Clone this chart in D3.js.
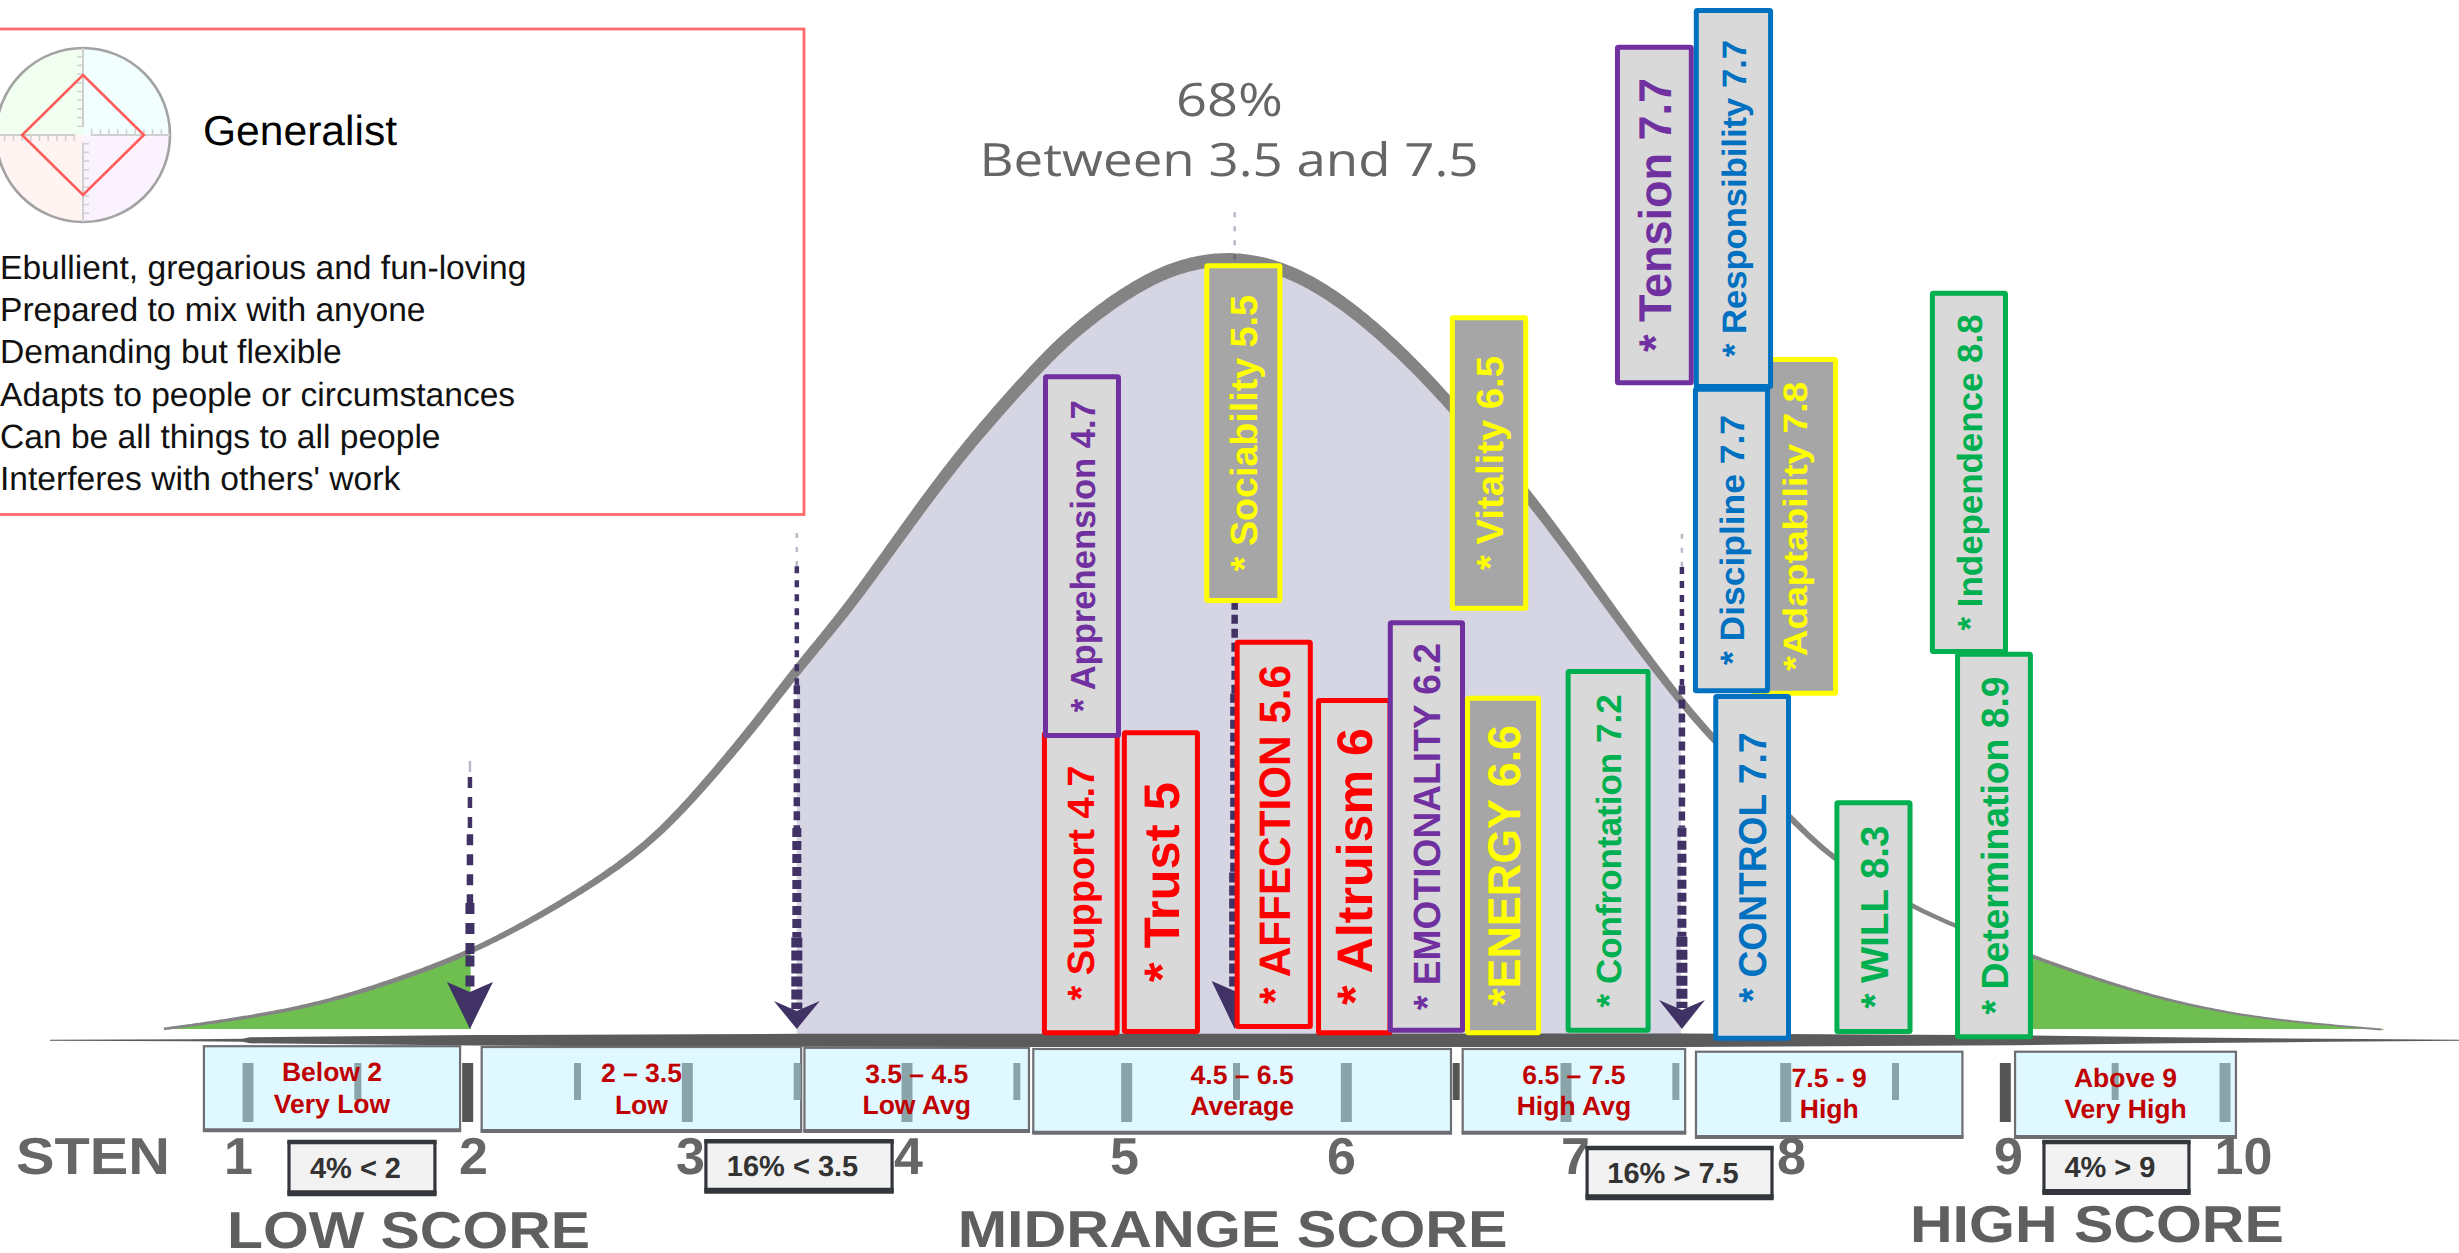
<!DOCTYPE html>
<html>
<head>
<meta charset="utf-8">
<script src="https://cdn.jsdelivr.net/npm/d3@7"></script>
<style>
html,body{margin:0;padding:0;background:#fff;overflow:hidden}
svg{display:block;font-family:"Liberation Sans",Arial,sans-serif;text-rendering:geometricPrecision}
</style>
</head>
<body>
<div id="chart"></div>
<script>
// ---------- data (sten score = x, relative frequency % = y) ----------
const stenTicks = [1,2,3,4,5,6,7,8,9,10];
const stenMarks = [1,1.5,2,2.5,3,3.5,4,4.5,5,5.5,6,6.5,7,7.5,8,8.5,9,9.5,10];

const curveSten = [.685,1.28,1.715,1.987,2.30,2.63,2.866,3.10,3.307,3.49,3.688,3.84,3.995,4.147,4.30,4.458,4.611,4.778,5.134,5.488,5.84,6.18,6.457,6.833,7.208,7.468,7.63,8.005,8.198,8.553,8.756,9.11,9.39,9.69,10.03,10.36,10.6];
const curvePct  = [.9,3.3,7.5,10.6,15.1,20.7,25.8,33,39.9,46.6,53.1,58.8,64.8,70.5,75.8,80.8,85.4,90,97.2,99.6,96.9,89.4,80.9,67.8,52.7,43.3,38,27.5,22.3,16.5,14,10,7.1,4.4,2.4,1.4,.8];

const barNames  = ["Adaptability","Support","Trust","Apprehension","Sociability","AFFECTION","Altruism","EMOTIONALITY","ENERGY","Vitality","Confrontation","Tension","Responsibility","Discipline","CONTROL","WILL","Independence","Determination"];
const barValues = [7.8,4.7,5,4.7,5.5,5.6,6,6.2,6.6,6.5,7.2,7.7,7.7,7.7,7.7,8.3,8.8,8.9];
const barFamily = ["energy","affection","affection","emotionality","energy","affection","affection","emotionality","energy","energy","will","emotionality","control","control","control","will","will","will"];
const barTight  = ["Adaptability","ENERGY"];

const barLeft   = [7.815,4.62,4.99,4.625,5.37,5.51,5.885,6.20,6.53,6.465,6.96,7.185,7.55,7.546,7.64,8.20,8.64,8.756];
const barRight  = [8.217,4.98,5.35,4.986,5.73,5.87,6.22,6.53,6.855,6.80,7.35,7.55,7.917,7.903,8.0,8.56,9.0,9.106];
const barTop    = [86.4,38.8,38.9,84.2,98.3,50.4,43,52.9,43.3,91.7,46.7,126.1,130.8,82.6,43.5,30,94.8,48.9];
const barBottom = [43.3,.1,.25,37.9,55.1,.9,.1,.4,.1,54.1,.4,82.8,82.3,43.6,-.6,.25,48.6,-.4];

const barFontPx = [34,38,50,35,38,44,50,38,46,38,35,46,34,34,39,39,35,38];
const barTextPx = [289,235,200,312,276,339,277,367,281,214,313,274,317,250,270,183,316,338];

const bandLines1 = ["Below 2","2 – 3.5","3.5 – 4.5","4.5 – 6.5","6.5 – 7.5","7.5 - 9","Above 9"];
const bandLines2 = ["Very Low","Low","Low Avg","Average","High Avg","High","Very High"];
const bandLeft   = [.855,2.04,3.525,4.58,6.52,7.56,9.03];
const bandRight  = [1.945,3.51,4.56,6.47,7.51,8.79,9.97];
const bandTop    = [-1.3,-1.4,-1.5,-1.65,-1.65,-2,-2];
const bandBottom = [-12,-12.1,-12.1,-12.3,-12.3,-12.85,-12.85];

const tailLabels = ["4% < 2","16% < 3.5","16% > 7.5","4% > 9"];
const tailLeft   = [1.217,3.073,7.056,9.153];
const tailRight  = [1.838,3.927,7.912,9.77];
const tailTop    = [-13.5,-13.4,-14.25,-13.5];
const tailBottom = [-20,-19.7,-20.5,-19.85];

const arrowSten = [1.987,3.49,5.51,7.495];
const arrowFrom = [35,64,104.8,63.9];

const scoreLabels = ["LOW SCORE","MIDRANGE SCORE","HIGH SCORE"];
const scoreSten   = [.953,4.23,8.548];
const scoreLine   = [-27,-26.85,-26.2];
const scoreWidth  = [363,550,374];

const baseSten  = [.2,.8,1.02,1.05,2,3.5,7.5,9.03,9.69,10.36,10.92];
const baseThick = [1,2,3,6,10.5,13,13.5,10,6,3,1];

const titleLines = ["68%","Between 3.5 and 7.5"];
const profileName = "Generalist";
const profileTraits = ["Ebullient, gregarious and fun-loving","Prepared to mix with anyone","Demanding but flexible","Adapts to people or circumstances","Can be all things to all people","Interferes with others' work"];
const radarAngles = [0,90,180,270];
const radarValues = [6.9,7,6.9,7];

// ---------- scales ----------
const W = 2459, H = 1253;
const x = d3.scaleLinear().domain(stenTicks).range([238,473,690,908,1124,1341,1575,1791,2008,2243]);
const markX = d3.scaleLinear().domain([1,10]).range([248,2225]);
const y = d3.scaleLinear().domain([0,100]).range([1036,250]);
const familyColor = d3.scaleOrdinal().domain(["affection","emotionality","energy","control","will"])
  .range(["#ff0000","#7030a0","#ffff00","#0070c0","#00b050"]);
const GREY = "#666666", INK = "#403264";

const svg = d3.select("#chart").append("svg").attr("width",W).attr("height",H).attr("viewBox",`0 0 ${W} ${H}`);
svg.append("rect").attr("width",W).attr("height",H).attr("fill","#fff");
const defs = svg.append("defs");

// ---------- profile panel ----------
const panel = svg.append("g");
panel.append("rect").attr("x",-6).attr("y",29).attr("width",810).attr("height",485.5)
  .attr("fill","#fff").attr("stroke","#ff6b6b").attr("stroke-width",2.8);
const radar = panel.append("g").attr("transform","translate(83,135)");
const radarR = d3.scaleLinear().domain([0,10]).range([0,87]);
const tints = ["#f1fff1","#f1ffff","#faf2ff","#fff4f2"];   // NW, NE, SE, SW
const arc = d3.arc().innerRadius(0).outerRadius(radarR(10));
tints.forEach((c,i)=>radar.append("path")
  .attr("d",arc({startAngle:(i-1)*Math.PI/2,endAngle:i*Math.PI/2})).attr("fill",c));
radar.append("circle").attr("r",radarR(10)).attr("fill","none").attr("stroke","#a3a3a3").attr("stroke-width",2.6);
radarAngles.forEach(a=>{
  const g = radar.append("g").attr("transform",`rotate(${a})`);
  g.append("line").attr("y1",-radarR(.9)).attr("y2",-radarR(10)).attr("stroke","#cfcfcf").attr("stroke-width",2);
  d3.range(1,10).forEach(t=>g.append("line")
    .attr("x1",0).attr("x2",-6).attr("y1",-radarR(t)).attr("y2",-radarR(t))
    .attr("stroke","#d2d2d2").attr("stroke-width",1.6));
});
const radarPts = radarAngles.map((a,i)=>{
  const t=a*Math.PI/180; return [Math.sin(t)*radarR(radarValues[i]),-Math.cos(t)*radarR(radarValues[i])];
});
radar.append("path").attr("d",d3.line().curve(d3.curveLinearClosed)(radarPts))
  .attr("fill","none").attr("stroke","#ff5c5c").attr("stroke-width",2.6);
panel.append("text").attr("x",203).attr("y",145).attr("font-size",42).attr("fill","#000")
  .attr("textLength",194).attr("lengthAdjust","spacingAndGlyphs").text(profileName);
panel.selectAll("text.trait").data(profileTraits).join("text").attr("class","trait")
  .attr("x",0).attr("y",(d,i)=>279+i*42.2).attr("font-size",33.6).attr("fill","#111").text(d=>d);

// ---------- title ----------
svg.selectAll("text.title").data(titleLines).join("text").attr("class","title")
  .attr("x",(d,i)=>i?1229:1229.5).attr("y",(d,i)=>i?176:116).attr("text-anchor","middle")
  .attr("font-family","'Open Sans',sans-serif").attr("font-size",46).attr("fill",GREY)
  .attr("textLength",(d,i)=>i?499:107).attr("lengthAdjust","spacingAndGlyphs").text(d=>d);

// ---------- bell curve ----------
const curvePts = curveSten.map((s,i)=>[x(s),y(curvePct[i])]);
const smooth = d3.curveBasis;
const areaPath = b=>d3.area().curve(smooth).x(d=>d[0]).y1(d=>d[1]).y0(y(b))(curvePts);
function clipped(id,a,b){
  defs.append("clipPath").attr("id",id).append("rect")
    .attr("x",x(a)).attr("width",x(b)-x(a)).attr("y",0).attr("height",H);
  return `url(#${id})`;
}
svg.append("path").attr("d",areaPath(.9)).attr("fill","#6fbf50").attr("clip-path",clipped("gl",.5,1.99));
svg.append("path").attr("d",areaPath(0)).attr("fill","#d5d5e3").attr("clip-path",clipped("mid",3.49,7.49));
svg.append("path").attr("d",areaPath(.9)).attr("fill","#6fbf50").attr("clip-path",clipped("gr",9,10.7));

// tapered outline: sample the smooth path and offset along its normal
const probe = svg.append("path").attr("d",d3.line().curve(smooth)(curvePts)).attr("fill","none");
const pNode = probe.node(), total = pNode.getTotalLength();
const upper=[], lower=[];
const peakX = x(5.5);
const halfWidth = p => {
  const v = Math.max(0,y.invert(p.y))/100;
  return (p.x<peakX ? 1.5+12*Math.pow(v,.5) : 1.5+12*Math.pow(v,.75))/2;
};
for(let l=0;l<=total;l+=3){
  const a=pNode.getPointAtLength(Math.max(0,l-1)), b=pNode.getPointAtLength(Math.min(total,l+1)), p=pNode.getPointAtLength(l);
  const dx=b.x-a.x, dy=b.y-a.y, n=Math.hypot(dx,dy)||1, h=halfWidth(p);
  upper.push([p.x+dy/n*h,p.y-dx/n*h]); lower.push([p.x-dy/n*h,p.y+dx/n*h]);
}
probe.remove();
svg.append("path").attr("d",d3.line()(upper.concat(lower.reverse()))+"Z").attr("fill","#848484");

// ---------- base line ----------
const basePts = baseSten.map((s,i)=>({s,t:baseThick[i]}));
svg.append("path").attr("d",d3.area().x(d=>x(d.s)).y0(d=>y(-.55)-d.t/2).y1(d=>y(-.55)+d.t/2)(basePts)).attr("fill","#5a5b5a");

// ---------- sten marks + bands ----------
const bands = svg.append("g");
bands.selectAll("rect").data(bandLines1).join("rect")
  .attr("x",(d,i)=>x(bandLeft[i])).attr("y",(d,i)=>y(bandTop[i]))
  .attr("width",(d,i)=>x(bandRight[i])-x(bandLeft[i]))
  .attr("height",(d,i)=>y(bandBottom[i])-y(bandTop[i]))
  .attr("fill","#e0f8ff").attr("stroke","#6d6e72").attr("stroke-width",2.2);
bands.selectAll("line").data(bandLines1).join("line")
  .attr("x1",(d,i)=>x(bandLeft[i])-1).attr("x2",(d,i)=>x(bandRight[i])+1)
  .attr("y1",(d,i)=>y(bandBottom[i])).attr("y2",(d,i)=>y(bandBottom[i]))
  .attr("stroke","#6d6e72").attr("stroke-width",4);
const inBand = px => bandLeft.some((l,i)=>px>=x(l)&&px<=x(bandRight[i]));
svg.selectAll("rect.mark").data(stenMarks).join("rect").attr("class","mark")
  .attr("x",d=>markX(d)-(Number.isInteger(d)?5.5:3.5)).attr("width",d=>Number.isInteger(d)?11:7)
  .attr("y",1063).attr("height",d=>Number.isInteger(d)?59:37)
  .attr("fill",d=>inBand(markX(d))?"#8aa5a9":"#555555");
[bandLines1,bandLines2].forEach((lines,k)=>{
  svg.selectAll(`text.band${k}`).data(lines).join("text").attr("class",`band${k}`)
    .attr("x",(d,i)=>(x(bandLeft[i])+x(bandRight[i]))/2)
    .attr("y",(d,i)=>y(bandTop[i])+(k?66.5:35))
    .attr("text-anchor","middle").attr("font-size",26.5).attr("font-weight",700).attr("fill","#c00000").text(d=>d);
});

// ---------- axis labels ----------
const axisG = svg.append("g").attr("transform","translate(0,1174)")
  .call(d3.axisBottom(x).tickValues(stenTicks).tickSize(0).tickFormat(d3.format("d")));
axisG.select(".domain").remove();
axisG.selectAll("text").attr("y",0).attr("dy",0).attr("font-family","'Liberation Sans',Arial,sans-serif")
  .attr("font-size",52).attr("font-weight",700).attr("fill",GREY);
svg.append("text").attr("x",16).attr("y",1174).attr("font-size",52).attr("font-weight",700).attr("fill",GREY)
  .attr("textLength",154).attr("lengthAdjust","spacingAndGlyphs").text("STEN");
svg.selectAll("text.score").data(scoreLabels).join("text").attr("class","score")
  .attr("x",(d,i)=>x(scoreSten[i])).attr("y",(d,i)=>y(scoreLine[i]))
  .attr("font-size",52).attr("font-weight",700).attr("fill","#5f5f5f")
  .attr("textLength",(d,i)=>scoreWidth[i]).attr("lengthAdjust","spacingAndGlyphs").text(d=>d);

// ---------- tail boxes ----------
const tails = svg.selectAll("g.tail").data(tailLabels).join("g").attr("class","tail");
tails.append("rect").attr("x",(d,i)=>x(tailLeft[i])).attr("y",(d,i)=>y(tailTop[i]))
  .attr("width",(d,i)=>x(tailRight[i])-x(tailLeft[i])).attr("height",(d,i)=>y(tailBottom[i])-y(tailTop[i]))
  .attr("fill","#f2f2f2").attr("stroke","#33363b").attr("stroke-width",3.2);
tails.append("line").attr("x1",(d,i)=>x(tailLeft[i])-1.6).attr("x2",(d,i)=>x(tailRight[i])+1.6)
  .attr("y1",(d,i)=>y(tailBottom[i])).attr("y2",(d,i)=>y(tailBottom[i])).attr("stroke","#33363b").attr("stroke-width",6);
tails.append("line").attr("x1",(d,i)=>x(tailLeft[i])-1.6).attr("x2",(d,i)=>x(tailRight[i])+1.6)
  .attr("y1",(d,i)=>y(tailTop[i])).attr("y2",(d,i)=>y(tailTop[i])).attr("stroke","#33363b").attr("stroke-width",4.5);
tails.append("text").attr("x",(d,i)=>(x(tailLeft[i])+x(tailRight[i]))/2-6.5)
  .attr("y",(d,i)=>(y(tailTop[i])+y(tailBottom[i]))/2+10).attr("text-anchor","middle")
  .attr("font-size",29).attr("font-weight",700).attr("fill","#333").text(d=>d);

// ---------- arrows ----------
const headHeight = [47,28,48,29];
const stages = [[0,.07,2.5,"5 9",.35],[.07,.32,4.5,"7 7",1],[.32,.62,6.5,"9 5",1],[.62,.85,9,"9 4",1],[.85,1,11,"10 3",1]];
const firstArrowDash = "11 9";
arrowSten.forEach((s,i)=>{
  const ax=x(s), top=y(arrowFrom[i]), tip=y(.9), hh=headHeight[i], end=tip-hh+8;
  const g=svg.append("g");
  stages.forEach(st=>{
    g.append("line").attr("x1",ax).attr("x2",ax)
      .attr("y1",top+(end-top)*st[0]).attr("y2",top+(end-top)*st[1])
      .attr("stroke",INK).attr("stroke-width",i===0?Math.min(st[2],9):st[2])
      .attr("stroke-dasharray",i===0?firstArrowDash:st[3]).attr("opacity",st[4]);
  });
  g.append("path").attr("fill",INK)
    .attr("d",d3.line()([[ax,tip],[ax-23,tip-hh],[ax,tip-hh+10],[ax+23,tip-hh]])+"Z");
});

// ---------- trait boxes ----------
const SW = 5;
const bars = svg.selectAll("g.bar").data(barNames).join("g").attr("class","bar");
bars.append("rect")
  .attr("x",(d,i)=>x(barLeft[i])+SW/2).attr("y",(d,i)=>y(barTop[i])+SW/2)
  .attr("width",(d,i)=>x(barRight[i])-x(barLeft[i])-SW).attr("height",(d,i)=>y(barBottom[i])-y(barTop[i])-SW)
  .attr("rx",1)
  .attr("fill",(d,i)=>barFamily[i]==="energy"?"#a6a6a6":"#d9d9d9")
  .attr("stroke",(d,i)=>familyColor(barFamily[i])).attr("stroke-width",SW);
bars.append("text")
  .attr("transform",(d,i)=>`translate(${(x(barLeft[i])+x(barRight[i]))/2},${(y(barTop[i])+y(barBottom[i]))/2}) rotate(-90)`)
  .attr("dy",".36em").attr("text-anchor","middle").attr("font-weight",700)
  .attr("font-size",(d,i)=>barFontPx[i]).attr("fill",(d,i)=>familyColor(barFamily[i]))
  .attr("textLength",(d,i)=>barTextPx[i]).attr("lengthAdjust","spacingAndGlyphs")
  .text((d,i)=>(barTight.includes(d)?"*":"* ")+d+" "+barValues[i]);
</script>
</body>
</html>
